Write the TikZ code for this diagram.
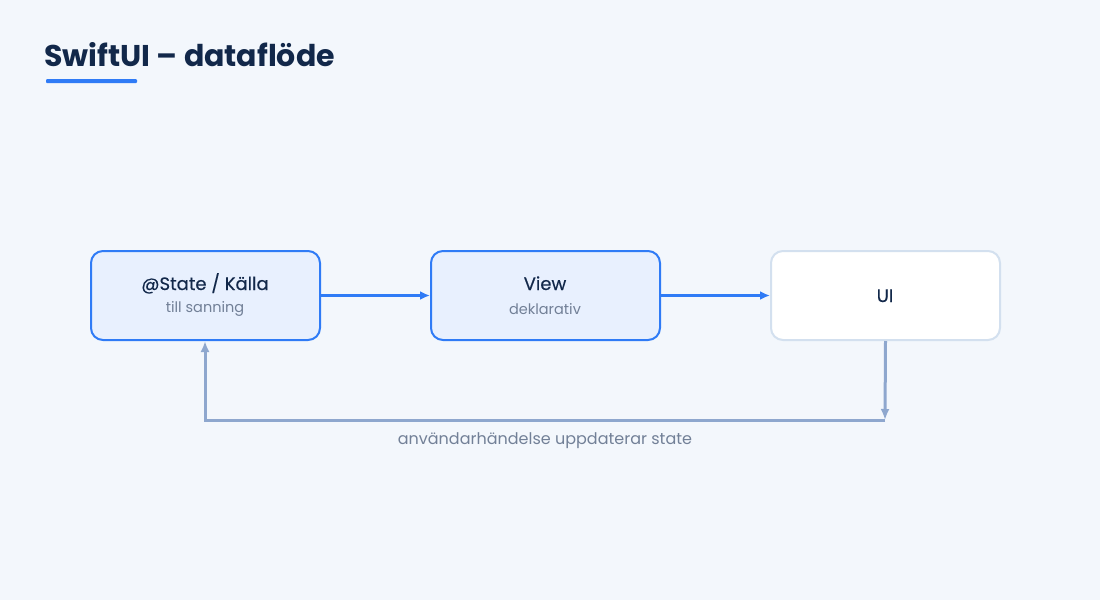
\documentclass[tikz,border=0pt]{standalone}
\usepackage{fontspec}
\setmainfont{Poppins}
\newfontfamily\medfont[FakeBold=0.35]{Poppins}
\usetikzlibrary{arrows.meta}
\definecolor{bg}{HTML}{F3F7FC}
\definecolor{navy}{HTML}{12284A}
\definecolor{accent}{HTML}{2F7BF6}
\definecolor{boxfill}{HTML}{E8F0FE}
\definecolor{uiline}{HTML}{D3E0EF}
\definecolor{fb}{HTML}{8EA7CE}
\definecolor{sub}{HTML}{728097}
\tikzset{
  x=1pt,y=-1pt,
  flowbox/.style={draw=accent, fill=boxfill, line width=2pt, rounded corners=12pt, minimum width=229pt, minimum height=89pt, inner sep=0pt, align=center},
  uibox/.style={draw=uiline, fill=white, line width=2pt, rounded corners=12pt, minimum width=229pt, minimum height=89pt, inner sep=0pt},
  mainarrow/.style={draw=accent, line width=3.5pt, -{Latex[length=10pt,width=9pt]}},
  fbarrow/.style={draw=fb, line width=3pt, -{Latex[length=11pt,width=9pt]}},
  maintext/.style={font=\medfont\fontsize{18}{21}\selectfont, text=navy},
  subtext/.style={font=\fontsize{14.5}{17}\selectfont, text=sub},
}
\begin{document}
\begin{tikzpicture}
\fill[bg] (0,0) rectangle (1100,600);
\useasboundingbox (0,0) rectangle (1100,600);
\node[anchor=base west, inner sep=0pt, text=navy, font=\fontsize{30}{34}\selectfont\bfseries] (title) at (44,66) {SwiftUI – dataflöde};
\fill[accent, rounded corners=1pt] (46,79) rectangle (137,83);

\node[flowbox] (state) at (205.5,295.5) {};
\node[maintext, anchor=base] (stateT) at (205,290) {@State / Källa};
\node[subtext, anchor=base] (stateS) at (205,312) {till sanning};

\node[flowbox] (view) at (545.5,295.5) {};
\node[maintext, anchor=base] (viewT) at (545,290) {View};
\node[subtext, anchor=base] (viewS) at (545,314) {deklarativ};

\node[uibox] (ui) at (885.5,295.5) {};
\node[maintext, anchor=base] (uiT) at (885,302) {UI};

\draw[mainarrow] (state.east) -- (view.west);
\draw[mainarrow] (view.east) -- (ui.west);

\coordinate (c1) at (885,420);
\coordinate (c2) at (205,420);
\draw[fbarrow] (ui.south) -- (c1);
\draw[fbarrow] (c1) -- (c2) -- (state.south -| c2);

\node[subtext, anchor=base, font=\fontsize{16}{19}\selectfont] (lbl) at (545,444) {användarhändelse uppdaterar state};
\end{tikzpicture}
\end{document}
